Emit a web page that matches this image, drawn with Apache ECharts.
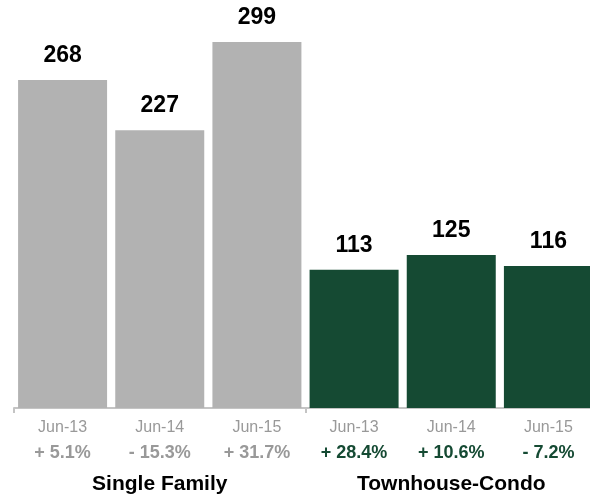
<!DOCTYPE html>
<html>
<head>
<meta charset="utf-8">
<style>
  html, body { margin: 0; padding: 0; background: #fff; }
  #chart { width: 590px; height: 496px; }
</style>
<script src="https://cdn.jsdelivr.net/npm/echarts@6/dist/echarts.min.js"></script>
</head>
<body>
<div id="chart"></div>
<script>
// Closed sales by month, grouped by property type
const months = ['Jun-13', 'Jun-14', 'Jun-15', 'Jun-13', 'Jun-14', 'Jun-15'];
const groups = ['Single Family', 'Townhouse-Condo'];
const groupOf = [0, 0, 0, 1, 1, 1];
const values = [268, 227, 299, 113, 125, 116];
const changes = ['+ 5.1%', '- 15.3%', '+ 31.7%', '+ 28.4%', '+ 10.6%', '- 7.2%'];

const GRAY = '#b2b2b2';
const GREEN = '#154a33';
const FONT = '"Liberation Sans", Arial, Helvetica, sans-serif';

const chart = echarts.init(document.getElementById('chart'));
chart.setOption({
  animation: false,
  // the plot runs slightly past the right edge so the last bar is cut off
  grid: {
    left: 14, width: 583, top: 40.8, bottom: 88,
    containLabel: false, outerBoundsMode: 'none'
  },
  xAxis: [
    {
      type: 'category',
      data: months.map((m, i) => i),
      position: 'bottom',
      axisLine: { show: true, lineStyle: { color: '#c4c4c4', width: 2 } },
      axisTick: {
        show: true,
        interval: (i) => i % 3 === 0,
        length: 5,
        lineStyle: { color: '#c4c4c4', width: 2 }
      },
      axisLabel: {
        interval: 0,
        margin: 9,
        fontFamily: FONT,
        formatter: (v) => {
          const i = Number(v);
          const tag = groupOf[i] === 0 ? 'pg' : 'pk';
          return '{d|' + months[i] + '}\n{' + tag + '|' + changes[i] + '}';
        },
        rich: {
          d: { color: '#999999', fontSize: 16, fontFamily: FONT, lineHeight: 22 },
          pg: { color: '#999999', fontSize: 18, fontWeight: 'bold', fontFamily: FONT, lineHeight: 28 },
          pk: { color: GREEN, fontSize: 18, fontWeight: 'bold', fontFamily: FONT, lineHeight: 28 }
        }
      }
    },
    {
      type: 'category',
      data: groups,
      position: 'bottom',
      offset: 58,
      axisLine: { show: false },
      axisTick: { show: false },
      axisLabel: {
        interval: 0,
        margin: 8,
        color: '#000',
        fontSize: 21,
        fontWeight: 'bold',
        fontFamily: FONT
      }
    }
  ],
  yAxis: { type: 'value', min: 0, max: 300, show: false },
  series: [
    {
      type: 'bar',
      xAxisIndex: 0,
      barWidth: 89,
      data: values.map((v, i) => ({
        value: v,
        itemStyle: { color: groupOf[i] === 0 ? GRAY : GREEN }
      })),
      label: {
        show: true,
        position: 'top',
        distance: 13,
        color: '#000',
        fontSize: 23,
        fontWeight: 'bold',
        fontFamily: FONT
      }
    }
  ]
});
</script>
</body>
</html>
